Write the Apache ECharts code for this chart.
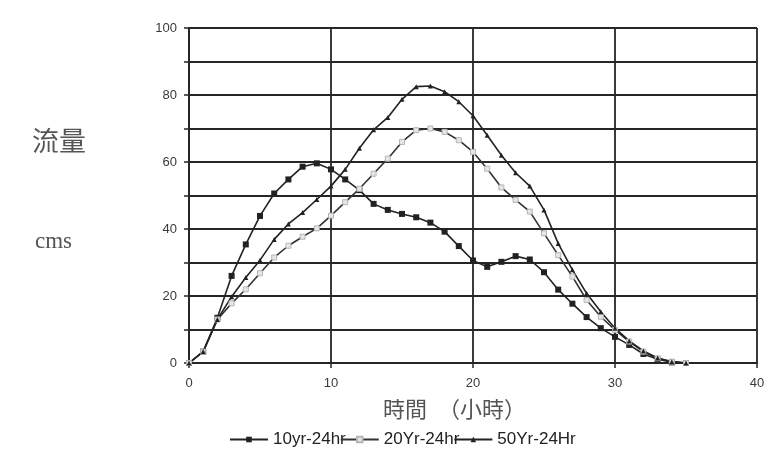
<!DOCTYPE html>
<html>
<head>
    <meta charset="UTF-8">
    <title>流量 - 時間</title>
    <style>
        * { margin: 0; padding: 0; }
        body { background: #fff; }
        #chart { width: 775px; height: 460px; }
    </style>
    <script src="https://cdn.jsdelivr.net/npm/echarts@6/dist/echarts.min.js"></script>
</head>
<body>
    <div id="chart"></div>
    <script>
        // 時間（小時）
        const hours = [0, 1, 2, 3, 4, 5, 6, 7, 8, 9, 10, 11, 12, 13, 14, 15, 16, 17,
            18, 19, 20, 21, 22, 23, 24, 25, 26, 27, 28, 29, 30, 31, 32, 33, 34, 35];

        // 流量 cms
        const q10 = [0, 3.4, 13.5, 26, 35.4, 43.9, 50.6, 54.8, 58.6, 59.6, 57.8, 54.8,
            51.6, 47.5, 45.7, 44.5, 43.5, 41.9, 39.2, 34.9, 30.6, 28.7, 30.2, 31.9,
            30.9, 27.1, 21.9, 17.7, 13.7, 10.4, 7.8, 5.4, 2.7, 1.1, 0.2, 0];
        const q20 = [0, 3.4, 13, 17.8, 22, 26.8, 31.5, 35, 37.7, 40.2, 44, 48, 52,
            56.5, 61, 66, 69.5, 70, 69, 66.5, 63, 58, 52.4, 48.7, 45.2, 38.7, 32.2,
            25.8, 18.8, 13.8, 9.9, 6.4, 3.4, 1.4, 0.4, 0];
        const q50 = [0, 3.4, 13, 19.8, 25.5, 30.7, 36.9, 41.5, 44.9, 48.8, 52.8, 57.8,
            64.1, 69.6, 73.3, 78.7, 82.5, 82.7, 81, 78, 73.8, 68, 62, 56.8, 52.8, 45.7,
            35.7, 27.8, 20.8, 15.3, 10.4, 6.6, 3.6, 1.5, 0.4, 0];

        const names = ['10yr-24hr', '20Yr-24hr', '50Yr-24Hr'];
        const xTicks = [0, 10, 20, 30, 40];
        const yTicks = [0, 20, 40, 60, 80, 100];

        function pairs(vals) {
            return hours.map((h, i) => [h, vals[i]]);
        }

        const gridColor = '#262626';
        const chart = echarts.init(document.getElementById('chart'));
        chart.setOption({
            animation: false,
            backgroundColor: '#fff',
            grid: { left: 189, right: 18, top: 28, bottom: 97 },
            xAxis: {
                type: 'value', min: 0, max: 40, interval: 10,
                axisLine: { lineStyle: { color: gridColor, width: 1.8 } },
                axisTick: { length: 5, lineStyle: { color: gridColor, width: 1.5 } },
                axisLabel: {
                    color: '#3a3a3a', fontSize: 13, fontFamily: 'Liberation Sans', margin: 14,
                    formatter: v => xTicks.includes(v) ? String(v) : ''
                },
                splitLine: { lineStyle: { color: gridColor, width: 1.8 } }
            },
            yAxis: {
                type: 'value', min: 0, max: 100, interval: 10,
                axisLine: { lineStyle: { color: gridColor, width: 1.8 } },
                axisTick: { length: 5, lineStyle: { color: gridColor, width: 1.5 } },
                axisLabel: {
                    color: '#3a3a3a', fontSize: 13, fontFamily: 'Liberation Sans', margin: 12,
                    formatter: v => yTicks.includes(v) ? String(v) : ''
                },
                splitLine: { lineStyle: { color: gridColor, width: 1.8 } }
            },
            legend: {
                left: 224, top: 426, itemGap: -6, itemWidth: 38, itemHeight: 7,
                textStyle: { fontSize: 17, color: '#222', fontFamily: 'Liberation Sans' },
                data: names
            },
            graphic: [
                { type: 'text', left: 32, top: 127,
                  style: { text: '流量', font: '27px "Noto Sans CJK TC"', fill: '#555' } },
                { type: 'text', left: 35, top: 230,
                  style: { text: 'cms', font: '23px "Liberation Serif"', fill: '#555' } },
                { type: 'text', left: 383, top: 398,
                  style: { text: '時間　（小時）', font: '22px "Noto Sans CJK TC"', fill: '#555' } }
            ],
            series: [
                {
                    name: names[0], type: 'line', data: pairs(q10),
                    symbol: 'rect', symbolSize: 6,
                    lineStyle: { color: '#222', width: 1.6 },
                    itemStyle: { color: '#222' }
                },
                {
                    name: names[1], type: 'line', data: pairs(q20),
                    symbol: 'rect', symbolSize: 5,
                    lineStyle: { color: '#333', width: 1.6 },
                    itemStyle: { color: '#e6e6e6', borderColor: '#b5b5b5', borderWidth: 1 }
                },
                {
                    name: names[2], type: 'line', data: pairs(q50),
                    symbol: 'triangle', symbolSize: 5,
                    lineStyle: { color: '#222', width: 1.6 },
                    itemStyle: { color: '#222' }
                }
            ]
        });
    </script>
</body>
</html>
